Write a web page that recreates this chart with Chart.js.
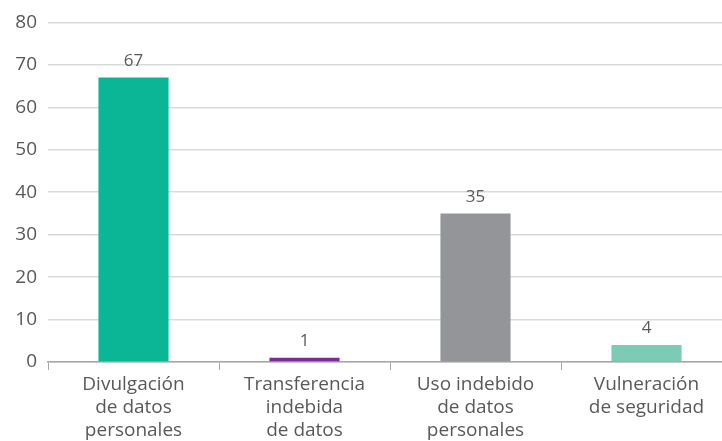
<!DOCTYPE html>
<html>
<head>
<meta charset="utf-8">
<script src="https://cdn.jsdelivr.net/npm/chart.js@4"></script>
<style>
  html, body { margin: 0; padding: 0; background: #fff; overflow: hidden; }
  #wrap { width: 732px; height: 441px; }
</style>
</head>
<body>
<div id="wrap"><canvas id="chart"></canvas></div>
<script>
// categories and values
const categories = [
  ['Divulgación', 'de datos', 'personales'],
  ['Transferencia', 'indebida', 'de datos'],
  ['Uso indebido', 'de datos', 'personales'],
  ['Vulneración', 'de seguridad']
];
const values = [67, 1, 35, 4];
const barColors = ['#0bb697', '#7b2d96', '#939598', '#7ccbb4'];
const yTicks = [0, 10, 20, 30, 40, 50, 60, 70, 80];

const fontFamily = '"Open Sans", Lato, sans-serif';

// draw the number above each bar
const valueLabels = {
  id: 'valueLabels',
  afterDatasetsDraw(chart) {
    const ctx = chart.ctx;
    const meta = chart.getDatasetMeta(0);
    ctx.save();
    ctx.font = '17px ' + fontFamily;
    ctx.fillStyle = '#595959';
    ctx.textAlign = 'center';
    ctx.textBaseline = 'bottom';
    meta.data.forEach((bar, i) => {
      ctx.fillText(values[i], bar.x, bar.y - 8);
    });
    ctx.restore();
  }
};

new Chart(document.getElementById('chart'), {
  type: 'bar',
  data: {
    labels: categories,
    datasets: [{
      data: values,
      backgroundColor: barColors,
      categoryPercentage: 1,
      barPercentage: 0.41
    }]
  },
  options: {
    responsive: true,
    maintainAspectRatio: false,
    animation: false,
    layout: { padding: { top: 22, right: 0, left: 0, bottom: 0 } },
    plugins: { legend: { display: false }, tooltip: { enabled: false } },
    scales: {
      x: {
        grid: { display: true, drawOnChartArea: false, drawTicks: true, tickLength: 8, color: '#a6a6a6', offset: true },
        border: { display: true, color: '#a6a6a6', width: 1.5 },
        ticks: {
          color: '#595959',
          font: { family: fontFamily, size: 19, lineHeight: 1.21 },
          padding: 3,
          maxRotation: 0
        },
        afterFit(scale) { scale.height = 79; }
      },
      y: {
        min: 0,
        max: 80,
        afterBuildTicks(scale) { scale.ticks = yTicks.map(v => ({ value: v })); },
        grid: { color: '#d9d9d9', lineWidth: 1.5, drawTicks: false },
        border: { display: false },
        ticks: {
          color: '#595959',
          font: { family: fontFamily, size: 19 },
          padding: 11
        },
        afterFit(scale) { scale.width = 48; }
      }
    }
  },
  plugins: [valueLabels]
});
</script>
</body>
</html>
